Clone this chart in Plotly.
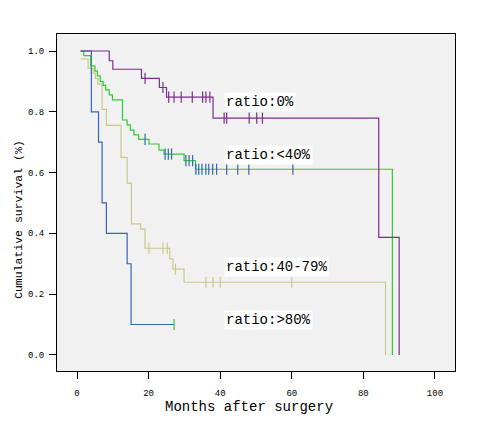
import plotly.graph_objects as go

# ---- data (months, cumulative survival) ----
p_t = [1, 9, 10, 18, 23, 25, 38, 84.3, 90]
p_s = [1.0, 0.968, 0.94, 0.91, 0.88, 0.848, 0.779, 0.387, 0.0]
p_ct = [19, 24, 25.6, 27.1, 29.1, 32.2, 35.1, 36, 37.1, 41.1, 41.8, 48.1, 50.2, 51.8]
p_cs = [0.91, 0.88, 0.848, 0.848, 0.848, 0.848, 0.848, 0.848, 0.848, 0.779, 0.779, 0.779, 0.779, 0.779]

g_t = [1, 1.9, 3.8, 5.0, 5.7, 6.5, 7.3, 8, 9, 9.9, 12.7, 14, 14.9, 15.9, 17.2, 20.1, 22.9, 24.3, 29.9, 33.1, 88.1]
g_s = [1.0, 0.985, 0.951, 0.934, 0.918, 0.899, 0.887, 0.872, 0.856, 0.839, 0.773, 0.757, 0.740, 0.724,
       0.709, 0.694, 0.674, 0.661, 0.639, 0.611, 0.0]
g_ct = [19, 24.6, 25.5, 26.4, 30.4, 31.3, 32.3, 33.2, 34.0, 34.9, 36.0, 36.8, 37.9, 39.0, 41.8, 44.9, 48.0, 60.3]
g_cs = [0.709, 0.661, 0.661, 0.661, 0.639, 0.639, 0.639] + [0.611] * 11

y_t = [1, 3.1, 4.5, 5.1, 5.8, 7.0, 8.2, 12.3, 14, 15.2, 17.8, 19, 25.9, 26.8, 29.9, 86.2]
y_s = [0.974, 0.943, 0.927, 0.91, 0.891, 0.808, 0.755, 0.650, 0.565, 0.431, 0.414, 0.351, 0.316, 0.282, 0.239, 0.0]
y_ct = [20.1, 24, 25.2, 27.5, 36, 38, 40, 60]
y_cs = [0.351, 0.351, 0.351, 0.282, 0.239, 0.239, 0.239, 0.239]

b_t = [1, 4, 6, 7, 8.2, 14, 15.1, 27.1]
b_s = [1.0, 0.8, 0.7, 0.5, 0.4, 0.3, 0.1, 0.1]
b_ct = [27.1]
b_cs = [0.1]

labels = ["ratio:0%", "ratio:<40%", "ratio:40-79%", "ratio:>80%"]
label_x = [41, 41, 41, 41]
label_y = [0.832, 0.658, 0.289, 0.115]

x_ticks = [0, 20, 40, 60, 80, 100]
y_ticks = [0.0, 0.2, 0.4, 0.6, 0.8, 1.0]
x_title = "Months after surgery"
y_title = "Cumulative survival (%)"

PURPLE = "#7b2f8c"
GREEN = "#33cc33"
YELLOW = "#c9c98c"
BLUE = "#3366b8"

fig = go.Figure()

def curve(t, s, color):
    fig.add_trace(go.Scatter(x=t, y=s, mode="lines", line=dict(color=color, width=1.2, shape="hv"),
                             showlegend=False, hoverinfo="skip"))

def cens(t, s, color):
    fig.add_trace(go.Scatter(x=t, y=s, mode="markers",
                             marker=dict(symbol="line-ns", size=8, line=dict(color=color, width=1.2)),
                             showlegend=False, hoverinfo="skip"))

curve(y_t, y_s, YELLOW)
curve(b_t, b_s, BLUE)
curve(g_t, g_s, GREEN)
curve(p_t, p_s, PURPLE)
cens(y_ct, y_cs, YELLOW)
cens(b_ct, b_cs, GREEN)
cens(g_ct, g_cs, BLUE)
cens(p_ct, p_cs, PURPLE)

for lab, lx, ly in zip(labels, label_x, label_y):
    fig.add_annotation(x=lx, y=ly, text=lab, showarrow=False, xanchor="left", yanchor="middle",
                       bgcolor="white", borderpad=1,
                       font=dict(family="Liberation Mono", size=14, color="black"))

# axis titles as annotations for exact placement
fig.add_annotation(xref="paper", yref="paper", x=0.4825, y=-0.107, text=x_title, showarrow=False,
                   xanchor="center", yanchor="middle",
                   font=dict(family="Liberation Mono", size=14, color="black"))
fig.add_annotation(xref="paper", yref="paper", x=-0.098, y=0.451, text=y_title, showarrow=False,
                   textangle=-90, xanchor="center", yanchor="middle",
                   font=dict(family="Liberation Mono", size=11.5, color="black"))

# page body adds an 8px offset; the figure is sized/margined to compensate
fig.update_layout(
    width=482, height=414,
    margin=dict(l=49, r=35, t=26, b=51, autoexpand=False),
    paper_bgcolor="white", plot_bgcolor="#f1f1f1",
    font=dict(family="Liberation Mono", color="black"),
)
fig.update_xaxes(range=[-5.6, 105.6], tickvals=x_ticks, ticktext=[str(v) for v in x_ticks],
                 ticks="outside", ticklen=7, tickcolor="black", tickwidth=1,
                 showline=True, linecolor="black", linewidth=1, mirror=True, automargin=False,
                 showgrid=False, zeroline=False, tickfont=dict(size=9, family="Liberation Mono"),
                 ticklabelstandoff=6)
fig.update_yaxes(range=[-0.053, 1.056], tickvals=y_ticks, ticktext=["%.1f" % v for v in y_ticks],
                 ticks="outside", ticklen=7, tickcolor="black", tickwidth=1,
                 showline=True, linecolor="black", linewidth=1, mirror=True, automargin=False,
                 showgrid=False, zeroline=False, tickfont=dict(size=9, family="Liberation Mono"),
                 ticklabelstandoff=3)

fig.write_html("out.html")
